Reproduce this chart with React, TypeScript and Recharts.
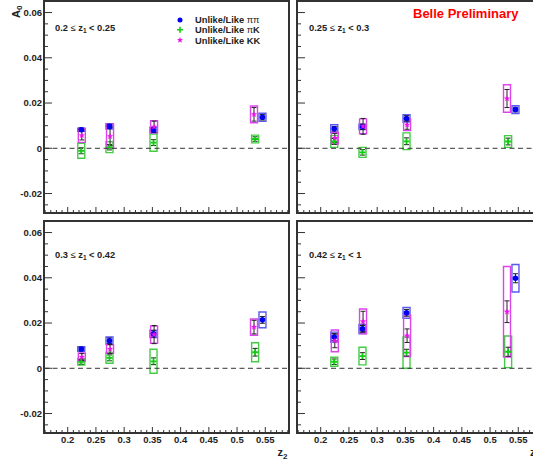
import React from 'react'
import {
  ScatterChart,
  Scatter,
  XAxis,
  YAxis,
  ErrorBar,
  ReferenceArea,
  ReferenceLine,
} from 'recharts'

const FONT = '"Liberation Sans", Arial, Helvetica, sans-serif'

// z2 positions of the points (species are shifted a little inside each bin)
const Z2_PIPI = [0.224, 0.274, 0.352, 0.545]
const Z2_PIK = [0.224, 0.274, 0.352, 0.532]
const Z2_KK = [0.225, 0.275, 0.353, 0.53]

// z1 bins, one per panel: top-left, top-right, bottom-left, bottom-right
const Z1_LOW = ['0.2', '0.25', '0.3', '0.42']
const Z1_HIGH = ['0.25', '0.3', '0.42', '1']

// A0 values, stat errors, sys errors (box half height) per panel
const A_PIPI = [
  [0.0082, 0.0097, 0.0081, 0.0137],
  [0.0086, 0.0095, 0.0132, 0.0171],
  [0.0085, 0.0122, 0.0152, 0.0214],
  [0.0138, 0.0174, 0.0245, 0.0398],
]
const STAT_PIPI = [
  [0.0008, 0.0009, 0.001, 0.0012],
  [0.001, 0.0012, 0.0012, 0.001],
  [0.0008, 0.0012, 0.0014, 0.0015],
  [0.0016, 0.0015, 0.0015, 0.002],
]
const SYS_PIPI = [
  [0.0007, 0.0012, 0.0012, 0.0018],
  [0.0018, 0.0012, 0.0016, 0.0017],
  [0.001, 0.0016, 0.0016, 0.0035],
  [0.0022, 0.002, 0.0024, 0.0061],
]

const A_PIK = [
  [-0.0011, 0.0005, 0.0025, 0.0041],
  [0.003, -0.0018, 0.0031, 0.003],
  [0.0028, 0.0046, 0.0031, 0.0071],
  [0.0029, 0.0054, 0.0069, 0.0073],
]
const STAT_PIK = [
  [0.0013, 0.0012, 0.0013, 0.001],
  [0.0013, 0.0012, 0.0015, 0.0015],
  [0.001, 0.0013, 0.0015, 0.0017],
  [0.0012, 0.0015, 0.0015, 0.002],
]
const SYS_PIK = [
  [0.0033, 0.0024, 0.0038, 0.0017],
  [0.0026, 0.0022, 0.0037, 0.0026],
  [0.0014, 0.0024, 0.0053, 0.0042],
  [0.002, 0.0039, 0.0069, 0.007],
]

const A_KK = [
  [0.0057, 0.0053, 0.0095, 0.015],
  [0.0045, 0.0097, 0.0104, 0.022],
  [0.005, 0.0085, 0.0149, 0.0182],
  [0.0121, 0.0207, 0.0144, 0.025],
]
const STAT_KK = [
  [0.002, 0.004, 0.0025, 0.003],
  [0.002, 0.0035, 0.002, 0.004],
  [0.0015, 0.002, 0.004, 0.003],
  [0.003, 0.0045, 0.003, 0.0048],
]
const SYS_KK = [
  [0.0031, 0.0053, 0.0027, 0.0037],
  [0.0026, 0.0033, 0.0026, 0.0061],
  [0.0018, 0.0019, 0.0038, 0.0036],
  [0.0048, 0.0055, 0.0092, 0.02],
]

const X_DOMAIN = [0.158, 0.592]
const Y_DOMAIN = [-0.0286, 0.0651]
// minor ticks every 0.01 in z2 and 0.005 in A0, labels on the majors
const X_TICKS = Array.from({ length: 44 }, (_, i) => Math.round((0.16 + i * 0.01) * 1000) / 1000)
const Y_TICKS = Array.from({ length: 18 }, (_, i) => Math.round((-0.025 + i * 0.005) * 10000) / 10000)

const BOX_HALF = 0.0062

const isMajorX = (v: number) => Math.abs(v * 20 - Math.round(v * 20)) < 1e-6
const isMajorY = (v: number) => Math.abs(v * 50 - Math.round(v * 50)) < 1e-6
const fmt = (v: number) => (Math.abs(v) < 1e-9 ? '0' : String(parseFloat(v.toFixed(3))))

function makeSeries(xs: number[], ys: number[], stat: number[], sys: number[]) {
  return xs.map((x, i) => ({ x, y: ys[i], err: stat[i], sys: sys[i] }))
}

function YTick(props: any) {
  const { x, y, payload, showLabel } = props
  const v = payload.value
  const major = isMajorY(v)
  const ax = x + 2
  return (
    <g>
      <line x1={ax} x2={ax + (major ? 8 : 4)} y1={y} y2={y} stroke="#333" strokeWidth={1} />
      {showLabel && major && (
        <text x={x} y={y} dy={3.3} textAnchor="end" fontFamily={FONT} fontWeight="bold" fontSize={9.5} fill="#222">
          {fmt(v)}
        </text>
      )}
    </g>
  )
}

function XTick(props: any) {
  const { x, y, payload, showLabel } = props
  const v = payload.value
  const major = isMajorX(v)
  const ay = y - 3
  return (
    <g>
      <line x1={x} x2={x} y1={ay} y2={ay - (major ? 6 : 3)} stroke="#333" strokeWidth={1} />
      {showLabel && major && (
        <text x={x} y={y} dy={7} textAnchor="middle" fontFamily={FONT} fontWeight="bold" fontSize={9.5} fill="#222">
          {fmt(v)}
        </text>
      )}
    </g>
  )
}

const circleShape = (p: any) => <circle cx={p.cx} cy={p.cy} r={2.8} fill="#0000ee" />
const crossShape = (p: any) => (
  <path d={`M${p.cx - 3},${p.cy}h6M${p.cx},${p.cy - 3}v6`} stroke="#11cc11" strokeWidth={1.8} />
)
const starShape = (p: any) => {
  const pts: string[] = []
  for (let k = 0; k < 10; k++) {
    const r = k % 2 === 0 ? 3.3 : 1.4
    const a = -Math.PI / 2 + (k * Math.PI) / 5
    pts.push(`${p.cx + r * Math.cos(a)},${p.cy + r * Math.sin(a)}`)
  }
  return <polygon points={pts.join(' ')} fill="#ee11ee" />
}

function boxes(data: any[], color: string, key: string) {
  return data.map((d, i) => (
    <ReferenceArea
      key={key + i}
      x1={d.x - BOX_HALF}
      x2={d.x + BOX_HALF}
      y1={d.y - d.sys}
      y2={d.y + d.sys}
      fill="none"
      stroke={color}
      strokeWidth={1.4}
      ifOverflow="visible"
    />
  ))
}

function Panel({ idx, left, top, height, xLabels, yLabels }: any) {
  const pipi = makeSeries(Z2_PIPI, A_PIPI[idx], STAT_PIPI[idx], SYS_PIPI[idx])
  const pik = makeSeries(Z2_PIK, A_PIK[idx], STAT_PIK[idx], SYS_PIK[idx])
  const kk = makeSeries(Z2_KK, A_KK[idx], STAT_KK[idx], SYS_KK[idx])
  return (
    <div style={{ position: 'absolute', left, top }}>
      <ScatterChart width={300} height={height} margin={{ top: 1, right: 11, bottom: 0, left: 0 }}>
        <XAxis
          type="number"
          dataKey="x"
          domain={X_DOMAIN}
          allowDataOverflow
          ticks={X_TICKS}
          interval={0}
          tickSize={0}
          tickMargin={3}
          axisLine={false}
          tickLine={false}
          height={height - 213}
          tick={(p: any) => <XTick {...p} showLabel={xLabels} />}
        />
        <YAxis
          type="number"
          dataKey="y"
          domain={Y_DOMAIN}
          allowDataOverflow
          ticks={Y_TICKS}
          interval={0}
          tickSize={0}
          tickMargin={2}
          axisLine={false}
          tickLine={false}
          width={44}
          tick={(p: any) => <YTick {...p} showLabel={yLabels} />}
        />
        <ReferenceLine y={0} stroke="#333" strokeDasharray="5 3.5" ifOverflow="visible" />
        {boxes(pik, '#44cc44', 'bk')}
        {boxes(pipi, '#5a5aee', 'bp')}
        {boxes(kk, '#dd44ee', 'bkk')}
        <Scatter data={pik} isAnimationActive={false} shape={crossShape}>
          <ErrorBar dataKey="err" direction="y" width={2.5} stroke="#222" strokeWidth={1} />
        </Scatter>
        <Scatter data={pipi} isAnimationActive={false} shape={circleShape}>
          <ErrorBar dataKey="err" direction="y" width={2.5} stroke="#222" strokeWidth={1} />
        </Scatter>
        <Scatter data={kk} isAnimationActive={false} shape={starShape}>
          <ErrorBar dataKey="err" direction="y" width={2.5} stroke="#222" strokeWidth={1} />
        </Scatter>
        <ReferenceArea
          x1={X_DOMAIN[0]}
          x2={X_DOMAIN[1]}
          y1={Y_DOMAIN[0]}
          y2={Y_DOMAIN[1]}
          fill="none"
          stroke="#333"
          strokeWidth={2}
          ifOverflow="visible"
        />
      </ScatterChart>
    </div>
  )
}

function BinLabel({ x, y, idx }: any) {
  return (
    <text x={x} y={y} fontSize={9.3}>
      {Z1_LOW[idx]}
      <tspan fontWeight="normal">{' \u2264 '}</tspan>z
      <tspan fontSize={6.5} dy={2}>1</tspan>
      <tspan dy={-2}>{' < ' + Z1_HIGH[idx]}</tspan>
    </text>
  )
}

export default function App() {
  return (
    <div
      style={{
        position: 'absolute',
        left: 0,
        top: 0,
        width: 533,
        height: 466,
        overflow: 'hidden',
        background: '#fff',
      }}
    >
      <Panel idx={0} left={0} top={0} height={225} xLabels={false} yLabels />
      <Panel idx={1} left={253} top={0} height={225} xLabels={false} yLabels={false} />
      <Panel idx={2} left={0} top={220} height={246} xLabels yLabels />
      <Panel idx={3} left={253} top={220} height={246} xLabels yLabels={false} />
      <svg
        width={533}
        height={466}
        style={{ position: 'absolute', left: 0, top: 0, pointerEvents: 'none' }}
        fontFamily={FONT}
        fontWeight="bold"
        fill="#222"
      >
        <text transform="translate(20,18) rotate(-90)" fontSize={11}>
          A<tspan fontSize={8} dy={1.5}>0</tspan>
        </text>
        <text x={287.5} y={456} textAnchor="end" fontSize={11}>
          z<tspan fontSize={8} dy={2.5}>2</tspan>
        </text>
        <text x={530} y={456} fontSize={11}>
          z<tspan fontSize={8} dy={2.5}>2</tspan>
        </text>
        <text x={413} y={17.5} fontSize={13} fill="#ff0000">
          Belle Preliminary
        </text>
        <BinLabel x={55} y={31} idx={0} />
        <BinLabel x={309} y={31} idx={1} />
        <BinLabel x={55} y={258} idx={2} />
        <BinLabel x={309} y={257.5} idx={3} />
        {/* legend */}
        <circle cx={180} cy={20} r={2.5} fill="#0000ee" />
        <path d="M177,29.7h6M180,26.7v6" stroke="#11cc11" strokeWidth={1.6} />
        <polygon points="180,37 180.8,39 183,39.2 181.3,40.6 181.9,42.8 180,41.6 178.1,42.8 178.7,40.6 177,39.2 179.2,39" fill="#ee11ee" />
        <text x={195} y={23.2} fontSize={9.3}>
          Unlike/Like <tspan fontWeight="normal">ππ</tspan>
        </text>
        <text x={195} y={33} fontSize={9.3}>
          Unlike/Like <tspan fontWeight="normal">π</tspan>K
        </text>
        <text x={195} y={43.7} fontSize={9.3}>
          Unlike/Like KK
        </text>
      </svg>
    </div>
  )
}
